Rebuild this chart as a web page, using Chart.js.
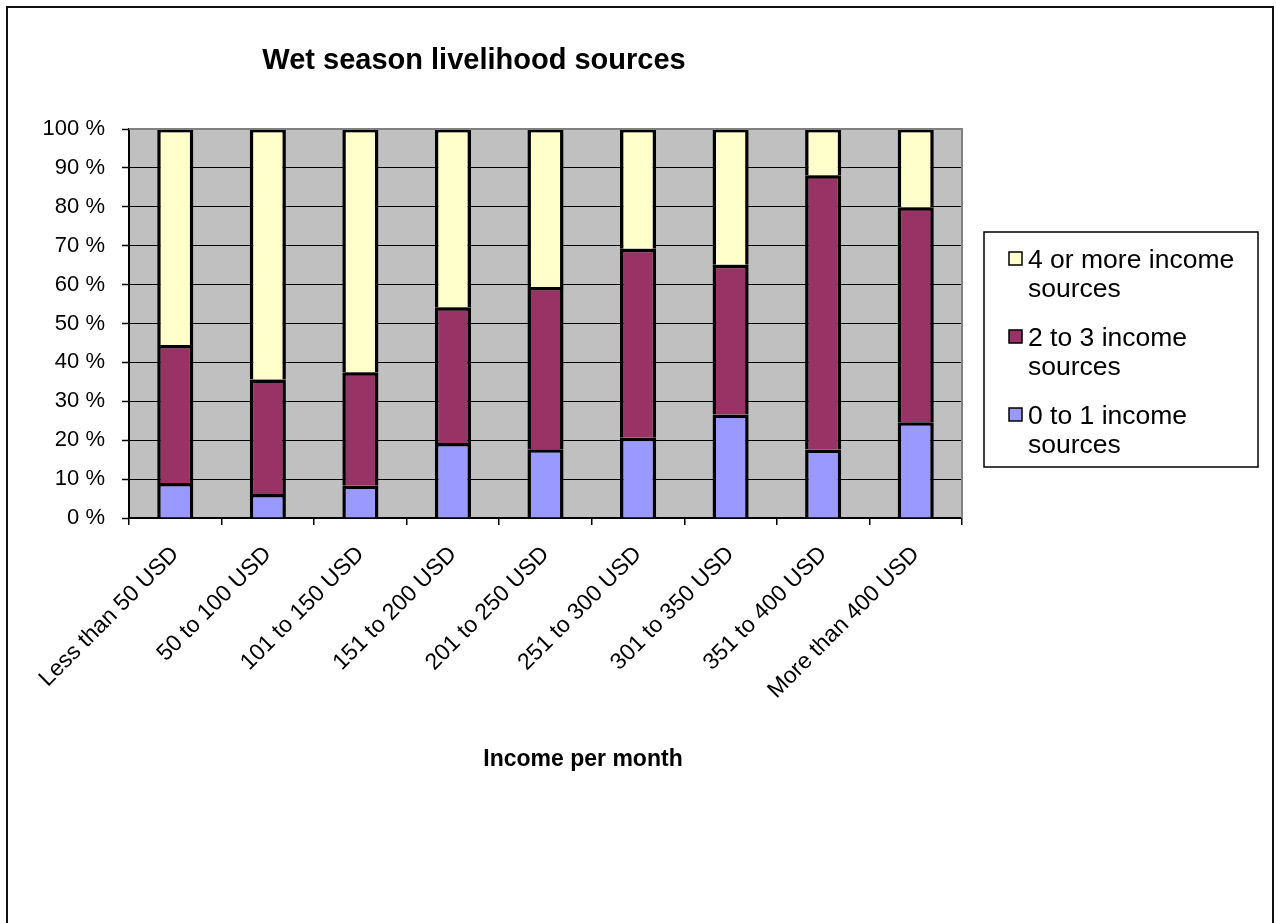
<!DOCTYPE html>
<html>
<head>
<meta charset="utf-8">
<title>Wet season livelihood sources</title>
<script src="https://cdn.jsdelivr.net/npm/chart.js@4.4.1/dist/chart.umd.min.js"></script>
<style>
  html, body { margin: 0; padding: 0; background: #fff; }
  #box { width: 1276px; height: 923px; }
</style>
</head>
<body>
<div id="box"><canvas id="myChart"></canvas></div>
<script>
// income groups (x axis)
const incomeGroups = ['Less than 50 USD', '50 to 100 USD', '101 to 150 USD', '151 to 200 USD',
  '201 to 250 USD', '251 to 300 USD', '301 to 350 USD', '351 to 400 USD', 'More than 400 USD'];

// share of households in %, per group
const sources0to1 = [9.0, 6.2, 8.3, 19.3, 17.7, 20.6, 26.6, 17.6, 24.6];
const sources2to3 = [35.5, 29.4, 29.2, 34.9, 41.7, 48.6, 38.5, 70.5, 55.3];
const sources4plus = [55.5, 64.4, 62.5, 45.8, 40.6, 30.8, 34.9, 11.9, 20.1];

const yTicks = [0, 10, 20, 30, 40, 50, 60, 70, 80, 90, 100];

const chartTitle = 'Wet season livelihood sources';
const xTitle = 'Income per month';

const FONT = 'Arial, "Liberation Sans", sans-serif';

// background of the plot, frame around the whole figure, titles
const decorations = {
    id: 'decorations',
    beforeDraw(chart) {
        const c = chart.ctx;
        const a = chart.chartArea;
        c.save();
        c.fillStyle = '#C0C0C0';
        c.fillRect(a.left, a.top, a.right - a.left, a.bottom - a.top);
        c.restore();
    },
    afterDraw(chart) {
        const c = chart.ctx;
        const a = chart.chartArea;
        c.save();
        // gray frame on top and right of the plot
        c.strokeStyle = '#808080';
        c.lineWidth = 2;
        c.beginPath();
        c.moveTo(a.left, a.top);
        c.lineTo(a.right, a.top);
        c.lineTo(a.right, a.bottom);
        c.stroke();

        // outer frame
        c.strokeStyle = '#111';
        c.lineWidth = 2;
        c.strokeRect(7, 7, 1266, 940);

        // titles
        c.fillStyle = '#000';
        c.textAlign = 'center';
        c.textBaseline = 'alphabetic';
        c.font = 'bold 29px ' + FONT;
        c.fillText(chartTitle, 474, 69);
        c.font = 'bold 23px ' + FONT;
        c.fillText(xTitle, 583, 766);
        c.restore();
    }
};

// legend on the right, labels wrapped over two lines
const sideLegend = {
    id: 'sideLegend',
    afterDraw(chart) {
        const c = chart.ctx;
        const box = { x: 984, y: 232, w: 274, h: 235 };
        c.save();
        c.fillStyle = '#fff';
        c.fillRect(box.x, box.y, box.w, box.h);
        c.strokeStyle = '#000';
        c.lineWidth = 1.5;
        c.strokeRect(box.x, box.y, box.w, box.h);

        c.font = '26.5px ' + FONT;
        c.textAlign = 'left';
        c.textBaseline = 'alphabetic';
        const maxW = 222;
        const ds = chart.data.datasets.slice().reverse();
        ds.forEach((d, i) => {
            const base = 268 + i * 78;
            // wrap label
            const words = d.label.split(' ');
            const lines = [];
            let cur = '';
            words.forEach(w => {
                const t = cur ? cur + ' ' + w : w;
                if (c.measureText(t).width > maxW && cur) {
                    lines.push(cur);
                    cur = w;
                } else {
                    cur = t;
                }
            });
            lines.push(cur);

            c.fillStyle = d.backgroundColor;
            c.fillRect(1009, base - 16, 13, 13);
            c.strokeStyle = '#000';
            c.lineWidth = 1.5;
            c.strokeRect(1009, base - 16, 13, 13);

            c.fillStyle = '#000';
            lines.forEach((ln, j) => c.fillText(ln, 1028, base + j * 29));
        });
        c.restore();
    }
};

const ctx = document.getElementById('myChart').getContext('2d');
const myChart = new Chart(ctx, {
    type: 'bar',
    data: {
        labels: incomeGroups,
        datasets: [
            {
                label: '0 to 1 income sources',
                data: sources0to1,
                backgroundColor: '#9999FF',
            },
            {
                label: '2 to 3 income sources',
                data: sources2to3,
                backgroundColor: '#993366',
            },
            {
                label: '4 or more income sources',
                data: sources4plus,
                backgroundColor: '#FFFFCC',
            },
        ]
    },
    options: {
        responsive: true,
        maintainAspectRatio: false,
        animation: false,
        layout: {
            padding: { left: 0, top: 129, right: 314, bottom: 205 }
        },
        datasets: {
            bar: {
                borderColor: '#000',
                borderWidth: 3.5,
                categoryPercentage: 0.39,
                barPercentage: 1,
            }
        },
        plugins: {
            legend: { display: false },
            title: { display: false },
            tooltip: { enabled: false },
        },
        scales: {
            x: {
                stacked: true,
                offset: true,
                grid: {
                    drawOnChartArea: false,
                    offset: true,
                    color: '#000',
                    tickLength: 7,
                    lineWidth: 1.5,
                },
                border: { color: '#000', width: 2 },
                ticks: {
                    color: '#000',
                    font: { family: FONT, size: 23 },
                    minRotation: 45,
                    maxRotation: 45,
                    autoSkip: false,
                    padding: 16,
                },
                afterFit(scale) { scale.height = 200; }
            },
            y: {
                stacked: true,
                min: 0,
                max: 100,
                afterBuildTicks(scale) {
                    scale.ticks = yTicks.map(v => ({ value: v }));
                },
                grid: {
                    color: ctx => ctx.tick && ctx.tick.value === 100 ? '#808080' : '#000',
                    lineWidth: 1,
                    tickColor: '#000',
                    tickWidth: 1.5,
                    tickLength: 7,
                },
                border: { color: '#000', width: 2 },
                ticks: {
                    color: '#000',
                    font: { family: FONT, size: 22 },
                    padding: 17,
                    callback: v => v + ' %',
                },
                afterFit(scale) { scale.width = 129; }
            }
        }
    },
    plugins: [decorations, sideLegend]
});
</script>
</body>
</html>
